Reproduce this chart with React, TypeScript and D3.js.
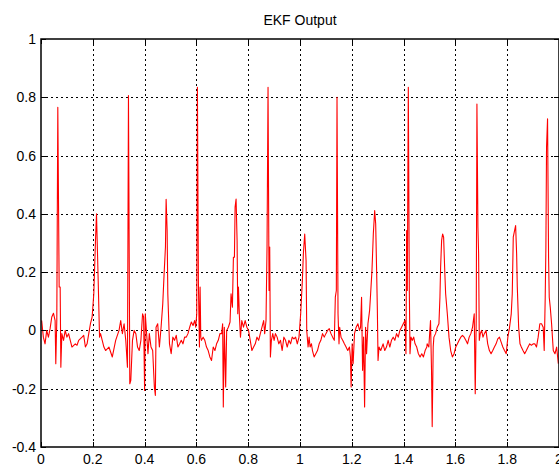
import React from "react";
import * as d3 from "d3";

const TITLE = "EKF Output";

const TIME = [
  0.0026, 0.0091, 0.0156, 0.0221, 0.0286, 0.0351, 0.0416, 0.0481, 0.0545, 0.0571, 0.061, 0.0649, 0.0701, 0.074, 0.0766,
  0.0805, 0.087, 0.0935, 0.1, 0.1065, 0.113, 0.1195, 0.1325, 0.139, 0.1455, 0.1584, 0.1649, 0.1714, 0.1779, 0.1844,
  0.1909, 0.1974, 0.2039, 0.2104, 0.2143, 0.2208, 0.226, 0.2299, 0.2364, 0.2429, 0.2494, 0.2623, 0.2753, 0.2883, 0.3013,
  0.3078, 0.3143, 0.3208, 0.3273, 0.3338, 0.3377, 0.3429, 0.3468, 0.3532, 0.3597, 0.3662, 0.3727, 0.3792, 0.3857, 0.3922,
  0.3961, 0.4, 0.4026, 0.4078, 0.413, 0.4182, 0.4247, 0.4312, 0.4377, 0.4416, 0.4442, 0.4506, 0.4571, 0.4636, 0.4701,
  0.4753, 0.4805, 0.4831, 0.487,
  0.4896, 0.4961, 0.5026, 0.5091, 0.5156, 0.5221, 0.5286, 0.5351, 0.5416, 0.5481, 0.5545, 0.561, 0.5675, 0.574, 0.5805,
  0.587, 0.5935, 0.5974, 0.6013, 0.6039, 0.6078, 0.6117, 0.6143, 0.6169, 0.6195, 0.626, 0.6325, 0.639, 0.6455, 0.652,
  0.6584, 0.6649, 0.6714, 0.6779, 0.6844, 0.6909, 0.6974, 0.7013, 0.7039, 0.7078, 0.713, 0.7169, 0.7234, 0.7299, 0.7338,
  0.739, 0.7429, 0.7468, 0.7494, 0.7532, 0.7571, 0.7597, 0.7623, 0.7662, 0.7701, 0.7753, 0.7818, 0.7883, 0.7948, 0.8013,
  0.8078, 0.8143, 0.8208, 0.8273, 0.8338, 0.8403, 0.8468, 0.8532, 0.8597, 0.8636, 0.8688, 0.8727, 0.8766, 0.8805, 0.8831,
  0.8857, 0.8896, 0.8948, 0.9, 0.9052, 0.9117, 0.9182, 0.9247, 0.9312, 0.9377, 0.9442, 0.9506, 0.9571, 0.9636, 0.9701,
  0.9766, 0.9831, 0.9896, 0.9961,
  1.0026, 1.0091, 1.013, 1.0182, 1.0234, 1.026, 1.0312, 1.0351, 1.039, 1.0442, 1.0481, 1.0545, 1.061, 1.0675, 1.074,
  1.0805, 1.087, 1.0935, 1.1, 1.1065, 1.113, 1.1195, 1.126, 1.1325, 1.1364, 1.1403, 1.1429, 1.1468, 1.1506, 1.1532,
  1.1584, 1.1649, 1.1714, 1.1779, 1.1844, 1.1909, 1.1948, 1.1974, 1.2013, 1.2052, 1.2104, 1.2169, 1.2234, 1.2299, 1.2338,
  1.2377, 1.2416, 1.2455, 1.2494, 1.2532, 1.2571, 1.2623, 1.2688, 1.2727, 1.2779, 1.2831, 1.2883, 1.2922, 1.2961, 1.2987,
  1.3013, 1.3052, 1.3117, 1.3208, 1.3273, 1.3338, 1.3403, 1.3468, 1.3532, 1.3597, 1.3662, 1.3727, 1.3792, 1.3857, 1.3922,
  1.3987, 1.4052, 1.4091, 1.4117, 1.4143, 1.4182, 1.4221, 1.4247, 1.4286, 1.4338, 1.439, 1.4442, 1.4506, 1.4571, 1.4636,
  1.4701, 1.4766, 1.4831, 1.4896,
  1.4909, 1.4974, 1.5039, 1.5078, 1.5104, 1.5143, 1.5169, 1.5234, 1.5299, 1.5364, 1.5403, 1.5429, 1.5468, 1.5506, 1.5545,
  1.5584, 1.5623, 1.5688, 1.5753, 1.5818, 1.5883, 1.5948, 1.6013, 1.6078, 1.6143, 1.6208, 1.6273, 1.6338, 1.6403, 1.6468,
  1.6532, 1.6597, 1.6662, 1.6727, 1.6766, 1.6805, 1.6831, 1.687, 1.6896, 1.6922, 1.6961, 1.7013, 1.7065, 1.7117, 1.7182,
  1.7247, 1.7312, 1.7377, 1.7442, 1.7506, 1.7571, 1.7636, 1.7701, 1.7766, 1.7831, 1.7896, 1.7961, 1.8026, 1.8091, 1.8156,
  1.8195, 1.8234, 1.8286, 1.8325, 1.8364, 1.839, 1.8442, 1.8494, 1.8545, 1.861, 1.8675, 1.874, 1.8805, 1.887, 1.8935,
  1.9, 1.9065, 1.913, 1.9195, 1.926, 1.9325, 1.939, 1.9429, 1.9468, 1.9494, 1.9519, 1.9558, 1.9597, 1.9623, 1.9662,
  1.9714, 1.9779, 1.9844, 1.9909, 1.9974,
];

const EKF = [
  0.034, -0.023, -0.046, 0, -0.023, 0.006, 0.046, 0.059, 0.034, -0.114, 0.034, 0.766, 0.149, 0.149, -0.126,
  -0.011, -0.034, 0, -0.023, -0.011, -0.034, -0.057, -0.046, -0.051, -0.034, -0.023, -0.017, -0.057, -0.046, -0.011,
  0.023, 0.046, 0.126, 0.309, 0.4, 0.171, -0.023, -0.011, -0.034, -0.057, -0.069, -0.057, -0.091, -0.034, 0,
  0.034, -0.011, 0.023, -0.034, -0.126, 0.806, -0.183, -0.171, -0.034, 0, -0.011, -0.057, -0.069, -0.034, 0.057,
  0.046, -0.206, 0.057, -0.011, -0.08, -0.011, -0.057, -0.069, -0.194, -0.223, 0.011, 0.023, -0.057, 0.011, 0.091,
  0.194, 0.286, 0.45, 0.343,
  0.126, -0.046, -0.08, -0.023, -0.034, -0.017, -0.057, -0.046, -0.034, -0.046, -0.023, -0.023, -0.011, 0.011, 0.029,
  0.017, 0.034, 0.011, 0.057, 0.834, 0.16, -0.057, 0.149, -0.023, -0.034, -0.023, -0.034, -0.057, -0.069, -0.091,
  -0.103, -0.057, -0.069, -0.046, -0.034, -0.011, -0.011, 0.023, -0.263, 0.011, -0.194, 0, 0.011, 0.029, 0.126,
  0.08, 0.251, 0.251, 0.423, 0.451, 0.309, 0.057, 0.149, 0.046, -0.023, 0.034, 0.011, 0.034, 0.011, 0,
  -0.034, -0.069, -0.057, -0.046, -0.023, -0.034, -0.011, 0.011, 0.034, -0.011, 0.034, 0.286, 0.834, 0.137, 0.286,
  -0.091, -0.034, -0.011, -0.034, -0.011, -0.023, -0.046, -0.034, -0.069, -0.023, -0.034, -0.057, -0.034, -0.046, -0.023,
  -0.029, -0.023, -0.046, -0.023,
  0.057, 0.171, 0.263, 0.331, 0.24, 0, -0.057, -0.023, -0.057, -0.046, -0.069, -0.091, -0.08, -0.069, -0.046,
  -0.034, -0.011, -0.023, -0.011, 0, 0.006, -0.011, -0.023, -0.034, 0.114, 0.137, 0.8, 0.057, -0.046, 0.011,
  -0.023, -0.034, -0.046, -0.057, -0.069, -0.057, -0.091, -0.194, -0.046, -0.114, -0.011, 0.011, 0.023, 0, 0.011,
  0.114, -0.137, -0.023, -0.263, 0.011, -0.08, 0.023, 0.069, 0.126, 0.206, 0.331, 0.411, 0.366, 0.194, 0.069,
  -0.103, -0.057, -0.069, -0.046, -0.069, -0.057, -0.034, -0.057, -0.034, -0.023, -0.034, -0.011, -0.023, 0, 0.011,
  0.023, 0.034, -0.08, 0.343, 0.137, 0.834, 0.137, -0.08, -0.023, -0.034, -0.023, -0.046, -0.057, -0.08, -0.091,
  -0.08, -0.091, -0.069, -0.057,
  -0.046, -0.057, 0.034, -0.137, -0.33, -0.057, -0.023, -0.011, 0.011, 0.023, 0.114, 0.217, 0.309, 0.331, 0.32,
  0.217, 0.126, 0.057, -0.023, -0.069, -0.091, -0.08, -0.057, -0.046, -0.034, -0.023, -0.017, -0.023, -0.034, -0.046,
  -0.023, -0.011, 0.011, 0.057, -0.217, 0.046, 0.777, 0.354, 0.263, -0.034, -0.011, 0, -0.023, -0.011, 0,
  -0.046, -0.069, -0.08, -0.069, -0.057, -0.046, -0.029, -0.023, -0.04, -0.057, -0.069, -0.08, -0.023, 0.011, 0.057,
  0.126, 0.32, 0.343, 0.36, 0.263, 0.149, 0.011, -0.046, -0.057, -0.069, -0.08, -0.069, -0.057, -0.046, -0.051,
  -0.046, -0.046, -0.057, -0.023, 0.023, 0.023, 0.011, -0.069, 0.114, 0.286, 0.629, 0.726, 0.251, 0.114, 0.08,
  0.023, -0.069, -0.08, -0.057, -0.114,
];

const X_TICKS = [0, 0.2, 0.4, 0.6, 0.8, 1, 1.2, 1.4, 1.6, 1.8, 2];
const Y_TICKS = [-0.4, -0.2, 0, 0.2, 0.4, 0.6, 0.8, 1];

const W = 559;
const H = 466;
const M = { left: 41, right: 0, top: 39, bottom: 19 };

export default function App() {
  const x = d3.scaleLinear().domain([0, 2]).range([M.left, W - M.right]);
  const y = d3.scaleLinear().domain([-0.4, 1]).range([H - M.bottom, M.top]);
  const pts: [number, number][] = TIME.map((t, i) => [t, EKF[i]]);
  const line = d3
    .line<[number, number]>()
    .x((d) => x(d[0]))
    .y((d) => y(d[1]));
  const fmt = (v: number) => String(Math.round(v * 10) / 10);
  const font = "Liberation Sans, Arial, Helvetica, sans-serif";
  const x0 = x(0);
  const x1 = x(2);
  const y0 = y(-0.4);
  const y1 = y(1);
  return (
    <svg
      width={W}
      height={H}
      style={{ position: "fixed", left: 0, top: 0, background: "#fff" }}
      fontFamily={font}
    >
      <rect x={0} y={0} width={W} height={H} fill="#fff" />
      {/* grid */}
      <g stroke="#000" strokeWidth={1} strokeDasharray="2,3">
        {X_TICKS.slice(1, -1).map((t) => (
          <line key={"gx" + t} x1={Math.round(x(t)) + 0.5} x2={Math.round(x(t)) + 0.5} y1={y1} y2={y0} />
        ))}
        {Y_TICKS.slice(1, -1).map((t) => (
          <line key={"gy" + t} x1={x0} x2={x1} y1={Math.round(y(t)) + 0.5} y2={Math.round(y(t)) + 0.5} />
        ))}
      </g>
      {/* signal */}
      <path d={line(pts) || ""} fill="none" stroke="#ff0000" strokeWidth={1.1} strokeLinejoin="round" />
      {/* frame */}
      <g stroke="#000" strokeWidth={1.5} fill="none">
        <rect x={x0} y={y1} width={x1 - x0} height={y0 - y1} />
      </g>
      {/* ticks */}
      <g stroke="#000" strokeWidth={1}>
        {X_TICKS.map((t) => (
          <g key={"tx" + t}>
            <line x1={Math.round(x(t)) + 0.5} x2={Math.round(x(t)) + 0.5} y1={y0} y2={y0 - 5} />
            <line x1={Math.round(x(t)) + 0.5} x2={Math.round(x(t)) + 0.5} y1={y1} y2={y1 + 5} />
          </g>
        ))}
        {Y_TICKS.map((t) => (
          <g key={"ty" + t}>
            <line x1={x0} x2={x0 + 5} y1={Math.round(y(t)) + 0.5} y2={Math.round(y(t)) + 0.5} />
            <line x1={x1} x2={x1 - 5} y1={Math.round(y(t)) + 0.5} y2={Math.round(y(t)) + 0.5} />
          </g>
        ))}
      </g>
      {/* labels */}
      <g fontSize={14} fill="#000">
        {X_TICKS.map((t) => (
          <text key={"lx" + t} x={x(t)} y={y0 + 17} textAnchor="middle">
            {fmt(t)}
          </text>
        ))}
        {Y_TICKS.map((t) => (
          <text key={"ly" + t} x={x0 - 5} y={y(t) + 5} textAnchor="end">
            {fmt(t)}
          </text>
        ))}
      </g>
      <text x={(x0 + x1) / 2} y={25} textAnchor="middle" fontSize={14} fill="#000">
        {TITLE}
      </text>
    </svg>
  );
}
